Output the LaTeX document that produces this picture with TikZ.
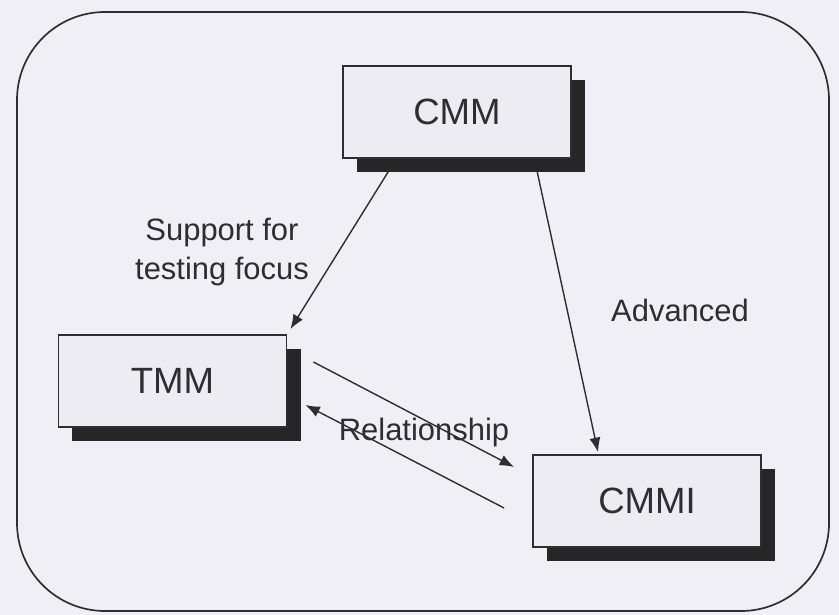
\documentclass[tikz,border=0pt]{standalone}
\usepackage{fontspec}
\setmainfont{Liberation Sans}
\usetikzlibrary{shadows,arrows.meta}
\definecolor{paper}{RGB}{241,239,246}
\definecolor{boxfill}{RGB}{238,236,243}
\definecolor{ink}{RGB}{45,45,50}

\begin{document}
\begin{tikzpicture}[x=0.025cm,y=-0.025cm,
    model/.style={draw=ink,line width=1.3pt,fill=boxfill,minimum width=5.7cm,minimum height=2.3cm,
      font=\fontsize{26}{28}\selectfont,text=ink,
      drop shadow={shadow xshift=0.35cm,shadow yshift=-0.36cm,fill=black!85,opacity=1}},
    link/.style={draw=ink,line width=1pt,-{Latex[length=3.6mm,width=2.8mm]}},
    tag/.style={font=\fontsize{22}{28}\selectfont,text=ink,align=center}]
    \path[use as bounding box,fill=paper] (0,0) rectangle (839,615);
    \draw[ink,line width=1.2pt,rounded corners=2.2cm] (17,12) rectangle (829,611);
    \node[model] (cmm) at (457,112) {CMM};
    \node[model] (tmm) at (172.5,381) {TMM};
    \node[model] (cmmi) at (647,501) {CMMI};
    \draw[link] ([shift={(-67,10)}]cmm.south) -- ([shift={(3,-5)}]tmm.north east);
    \draw[link] ([shift={(80,12)}]cmm.south) -- ([shift={(-49,-2)}]cmmi.north);
    \draw[link] ([shift={(26,-19)}]tmm.east) -- ([shift={(-18,-34)}]cmmi.west);
    \draw[link] ([shift={(-28,7)}]cmmi.west) -- ([shift={(18,24)}]tmm.east);
    \node[tag] (focus) at (222,252) {Support for\\testing focus};
    \node[tag] (adv) at (680,310) {Advanced};
    \node[tag] (rel) at (424,433) {Relationship};
\end{tikzpicture}
\end{document}
